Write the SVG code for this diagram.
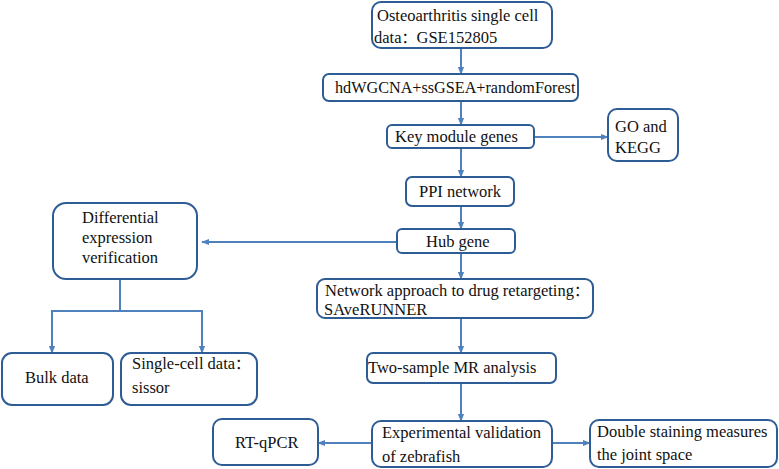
<svg xmlns="http://www.w3.org/2000/svg" width="779" height="469" viewBox="0 0 779 469">
  <defs>
    <marker id="arrow" viewBox="0 0 10 10" refX="9" refY="5" markerWidth="4" markerHeight="4" orient="auto" markerUnits="strokeWidth">
      <path d="M0,1 L10,5 L0,9 Z" fill="#4F81BD"/>
    </marker>
  </defs>
  <style>
    .box { fill: #ffffff; stroke: #2E5C94; stroke-width: 2; }
    .lbl { font-family: "Liberation Serif", Tinos, "Times New Roman", "DejaVu Serif", serif; font-size: 16.5px; fill: #111111; }
    .cjk { font-family: "Noto Sans CJK SC", sans-serif; font-size: 15px; }
    .link { fill: none; stroke: #4F81BD; stroke-width: 2; }
    .arr { marker-end: url(#arrow); }
  </style>
  <rect width="779" height="469" fill="#ffffff"/>

  <g id="connectors">
    <line class="link arr" x1="461" y1="48" x2="461" y2="74"/>
    <line class="link arr" x1="461" y1="101" x2="461" y2="125"/>
    <line class="link arr" x1="534" y1="137" x2="608" y2="137"/>
    <line class="link arr" x1="461" y1="148" x2="461" y2="177"/>
    <line class="link arr" x1="461" y1="206" x2="461" y2="229"/>
    <line class="link arr" x1="397" y1="242" x2="202" y2="242"/>
    <line class="link arr" x1="461" y1="253" x2="461" y2="279"/>
    <polyline class="link" points="120,279 120,311"/>
    <polyline class="link arr" points="120,311 52,311 52,353"/>
    <polyline class="link arr" points="120,311 202,311 202,353"/>
    <line class="link arr" x1="461" y1="318" x2="461" y2="353"/>
    <line class="link arr" x1="461" y1="383" x2="461" y2="421"/>
    <line class="link arr" x1="372" y1="443" x2="318" y2="443"/>
    <line class="link arr" x1="552" y1="443" x2="590" y2="443"/>
  </g>

  <g id="node-source">
    <rect class="box" x="372" y="2" width="180" height="46" rx="9"/>
    <text class="lbl" x="377" y="21">Osteoarthritis single cell</text>
    <text class="lbl" x="374" y="43">data<tspan class="cjk">：</tspan>GSE152805</text>
  </g>

  <g id="node-hdwgcna">
    <rect class="box" x="323" y="74" width="255" height="27" rx="6"/>
    <text class="lbl" x="335" y="93" style="font-size:16.2px">hdWGCNA+ssGSEA+randomForest</text>
  </g>

  <g id="node-key-module">
    <rect class="box" x="387" y="125" width="147" height="23" rx="5"/>
    <text class="lbl" x="395" y="142">Key module genes</text>
  </g>

  <g id="node-go-kegg">
    <rect class="box" x="608" y="109" width="70" height="52" rx="9"/>
    <text class="lbl" x="615" y="132">GO and</text>
    <text class="lbl" x="615" y="153">KEGG</text>
  </g>

  <g id="node-ppi">
    <rect class="box" x="406" y="177" width="108" height="29" rx="6"/>
    <text class="lbl" x="419" y="197">PPI network</text>
  </g>

  <g id="node-hub">
    <rect class="box" x="397" y="229" width="118" height="24" rx="5"/>
    <text class="lbl" x="426" y="247">Hub gene</text>
  </g>

  <g id="node-differential">
    <rect class="box" x="53" y="203" width="144" height="76" rx="13"/>
    <text class="lbl" x="82" y="223">Differential</text>
    <text class="lbl" x="82" y="243">expression</text>
    <text class="lbl" x="82" y="263">verification</text>
  </g>

  <g id="node-bulk">
    <rect class="box" x="2" y="353" width="111" height="52" rx="10"/>
    <text class="lbl" x="25" y="383">Bulk data</text>
  </g>

  <g id="node-single-cell">
    <rect class="box" x="121" y="353" width="136" height="52" rx="10"/>
    <text class="lbl" x="132" y="369">Single-cell data<tspan class="cjk">：</tspan></text>
    <text class="lbl" x="132" y="393">sissor</text>
  </g>

  <g id="node-network-approach">
    <rect class="box" x="317" y="279" width="276" height="39" rx="8"/>
    <text class="lbl" x="325" y="296">Network approach to drug retargeting<tspan class="cjk">：</tspan></text>
    <text class="lbl" x="324" y="315">SAveRUNNER</text>
  </g>

  <g id="node-mr">
    <rect class="box" x="367" y="353" width="189" height="30" rx="6"/>
    <text class="lbl" x="368" y="373">Two-sample MR analysis</text>
  </g>

  <g id="node-experimental">
    <rect class="box" x="372" y="421" width="180" height="46" rx="9"/>
    <text class="lbl" x="382" y="438">Experimental validation</text>
    <text class="lbl" x="382" y="462">of zebrafish</text>
  </g>

  <g id="node-rtqpcr">
    <rect class="box" x="213" y="419" width="105" height="46" rx="9"/>
    <text class="lbl" x="235" y="448">RT-qPCR</text>
  </g>

  <g id="node-double-staining">
    <rect class="box" x="590" y="420" width="187" height="47" rx="9"/>
    <text class="lbl" x="597" y="437">Double staining measures</text>
    <text class="lbl" x="597" y="460">the joint space</text>
  </g>
</svg>
